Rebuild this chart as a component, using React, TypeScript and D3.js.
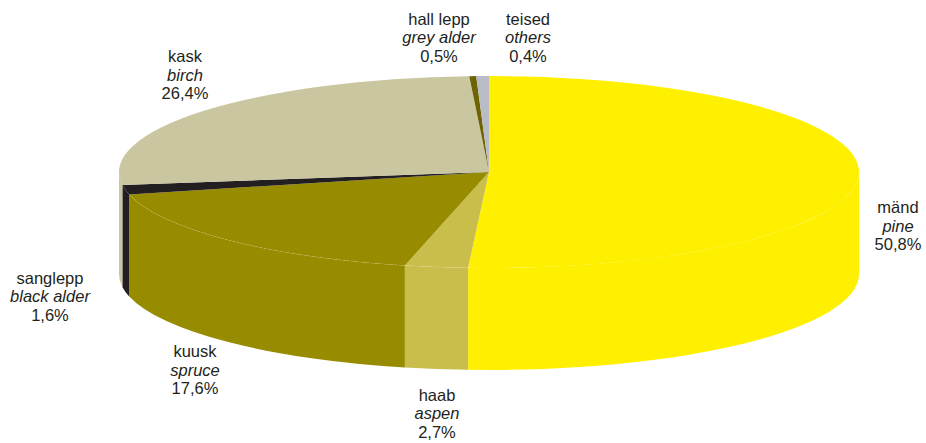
import React from "react";
import * as d3 from "d3";

const names = ["mänd", "haab", "kuusk", "sanglepp", "kask", "hall lepp", "teised"];
const namesEn = ["pine", "aspen", "spruce", "black alder", "birch", "grey alder", "others"];
const shares = [50.8, 2.7, 17.6, 1.6, 26.4, 0.5, 0.4];
// slice sizes as they are actually drawn in the picture (labels above don't add up to 100)
const drawnShares = [50.9, 2.75, 17.6, 1.6, 26.3, 0.3, 0.55];
const colors = ["#fff000", "#c9bd4b", "#978c00", "#231f20", "#c9c6a0", "#6b6400", "#b9bbc6"];

// label centres, top line baseline
const labelPos = [
  [898, 213],
  [437, 400.5],
  [195, 357],
  [50, 283.5],
  [185, 62],
  [439, 24.5],
  [528, 24.5],
];

const width = 926;
const height = 443;
const cx = 489;
const cy = 172;
const rx = 370;
const ry = 96;
const depth = 102;

const pt = (a: number): [number, number] => [cx + rx * Math.sin(a), cy - ry * Math.cos(a)];

// outer wall of a slice, only the part that faces the viewer
function wallPath(a0: number, a1: number) {
  const s = Math.max(a0, Math.PI / 2);
  const e = Math.min(a1, (3 * Math.PI) / 2);
  if (e <= s) return null;
  const [x0, y0] = pt(s);
  const [x1, y1] = pt(e);
  return `M${x0},${y0}A${rx},${ry} 0 0 1 ${x1},${y1}L${x1},${y1 + depth}A${rx},${ry} 0 0 0 ${x0},${y0 + depth}Z`;
}

function rimPath(a0: number, a1: number) {
  const [x0, y0] = pt(a0);
  const [x1, y1] = pt(a1);
  return `M${x0},${y0}A${rx},${ry} 0 0 1 ${x1},${y1}`;
}

export default function App() {
  const arcs = d3.pie<number>().sort(null)(drawnShares);
  const topArc = d3.arc<d3.PieArcDatum<number>>().innerRadius(0).outerRadius(rx);
  const fmt = (v: number) => v.toFixed(1).replace(".", ",") + "%";

  return (
    <svg
      width={width}
      height={height}
      style={{ position: "absolute", left: 0, top: 0, background: "#fff" }}
      fontFamily="'Liberation Sans', Arial, sans-serif"
      fontSize={16.5}
      fill="#231f20"
    >
      <g>
        {arcs.map((d, i) => {
          const p = wallPath(d.startAngle, d.endAngle);
          return p ? <path key={i} d={p} fill={colors[i]} /> : null;
        })}
      </g>
      <g transform={`translate(${cx},${cy}) scale(1,${ry / rx})`}>
        {arcs.map((d, i) => (
          <path key={i} d={topArc(d) as string} fill={colors[i]} />
        ))}
      </g>
      {/* faint dotted seam where top meets wall, aspen and spruce only */}
      {[1, 2].map((i) => (
        <path
          key={i}
          d={rimPath(arcs[i].startAngle, arcs[i].endAngle)}
          fill="none"
          stroke="#fff"
          strokeOpacity={0.22}
          strokeWidth={0.6}
          strokeDasharray="2 2"
        />
      ))}
      <g textAnchor="middle">
        {names.map((n, i) => (
          <text key={n} x={labelPos[i][0]} y={labelPos[i][1]}>
            <tspan x={labelPos[i][0]}>{n}</tspan>
            <tspan x={labelPos[i][0]} dy={18.6} fontStyle="italic">
              {namesEn[i]}
            </tspan>
            <tspan x={labelPos[i][0]} dy={18.6}>
              {fmt(shares[i])}
            </tspan>
          </text>
        ))}
      </g>
    </svg>
  );
}
